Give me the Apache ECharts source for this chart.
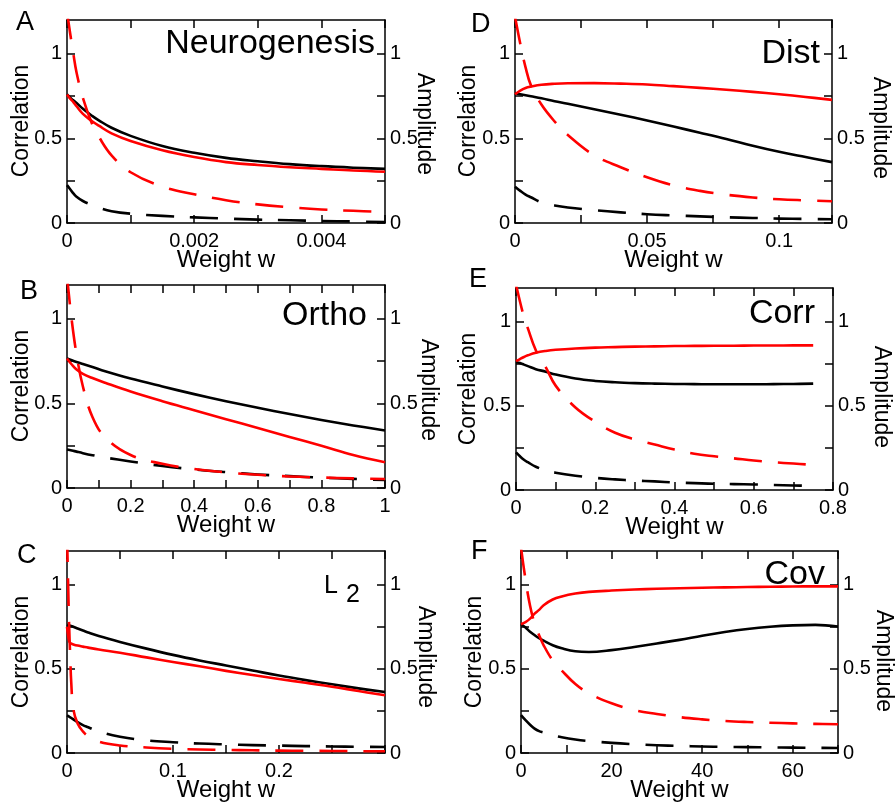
<!DOCTYPE html>
<html><head><meta charset="utf-8">
<script src="https://cdn.jsdelivr.net/npm/echarts@6/dist/echarts.min.js"></script>
<style>html,body{margin:0;padding:0;background:#fff}#c{width:895px;height:806px}</style>
</head><body><div id="c"></div>
<script>
// ---------- DATA ----------
// Panel A: Neurogenesis
const xA = [0, 0.00005, 0.0001, 0.00015, 0.00025, 0.0004, 0.0005, 0.0007, 0.001, 0.0015, 0.002, 0.0025, 0.003, 0.0035, 0.004, 0.0045, 0.005];
const aBlackSolid = [0.76, 0.74, 0.725, 0.71, 0.675, 0.632, 0.607, 0.563, 0.515, 0.455, 0.415, 0.385, 0.365, 0.348, 0.336, 0.327, 0.32];
const aRedSolid = [0.76, 0.735, 0.715, 0.69, 0.645, 0.60, 0.575, 0.53, 0.485, 0.43, 0.39, 0.36, 0.343, 0.33, 0.32, 0.31, 0.303];
const aBlackDash = [0.224, 0.2, 0.175, 0.155, 0.13, 0.105, 0.09, 0.07, 0.055, 0.042, 0.033, 0.026, 0.02, 0.016, 0.012, 0.009, 0.006];
const aRedDash = [1.25, 1.12, 1.0, 0.89, 0.74, 0.58, 0.51, 0.4, 0.3, 0.215, 0.17, 0.135, 0.11, 0.093, 0.08, 0.072, 0.065];
const xTicksA = [0, 0.002, 0.004];

// Panel B: Ortho
const xB = [0, 0.015, 0.03, 0.05, 0.08, 0.12, 0.2, 0.3, 0.4, 0.5, 0.6, 0.7, 0.8, 0.9, 1.0];
const bBlackSolid = [0.766, 0.755, 0.745, 0.733, 0.715, 0.69, 0.647, 0.6, 0.555, 0.513, 0.474, 0.437, 0.402, 0.37, 0.34];
const bRedSolid = [0.766, 0.73, 0.70, 0.675, 0.65, 0.622, 0.57, 0.513, 0.46, 0.407, 0.355, 0.302, 0.25, 0.195, 0.152];
const bBlackDash = [0.228, 0.222, 0.215, 0.206, 0.194, 0.18, 0.157, 0.13, 0.11, 0.094, 0.08, 0.07, 0.061, 0.054, 0.047];
const bRedDash = [1.25, 0.99, 0.79, 0.6, 0.42, 0.3, 0.195, 0.143, 0.112, 0.092, 0.078, 0.068, 0.062, 0.057, 0.053];
const xTicksB = [0, 0.2, 0.4, 0.6, 0.8, 1];

// Panel C: L2
const xC = [0, 0.001, 0.002, 0.003, 0.004, 0.006, 0.01, 0.015, 0.02, 0.03, 0.05, 0.075, 0.1, 0.125, 0.15, 0.175, 0.2, 0.225, 0.25, 0.275, 0.3];
const cBlackSolid = [0.762, 0.76, 0.758, 0.756, 0.754, 0.75, 0.74, 0.728, 0.716, 0.695, 0.66, 0.62, 0.583, 0.55, 0.52, 0.49, 0.46, 0.433, 0.408, 0.384, 0.362];
const cRedSolid = [0.75, 0.70, 0.665, 0.655, 0.65, 0.645, 0.638, 0.632, 0.626, 0.615, 0.596, 0.568, 0.541, 0.515, 0.488, 0.463, 0.44, 0.417, 0.394, 0.368, 0.343];
const cBlackDash = [0.224, 0.22, 0.216, 0.212, 0.208, 0.2, 0.184, 0.166, 0.153, 0.127, 0.097, 0.075, 0.064, 0.056, 0.051, 0.047, 0.044, 0.041, 0.039, 0.037, 0.036];
const cRedDash = [1.3, 1.02, 0.76, 0.58, 0.42, 0.26, 0.175, 0.128, 0.1, 0.068, 0.045, 0.033, 0.025, 0.021, 0.018, 0.016, 0.014, 0.013, 0.012, 0.011, 0.01];
const xTicksC = [0, 0.1, 0.2];

// Panel D: Dist
const xD = [0, 0.002, 0.004, 0.006, 0.01, 0.015, 0.02, 0.03, 0.04, 0.05, 0.06, 0.07, 0.08, 0.09, 0.1, 0.11, 0.12];
const dBlackSolid = [0.767, 0.761, 0.755, 0.749, 0.737, 0.72, 0.705, 0.672, 0.64, 0.606, 0.57, 0.534, 0.497, 0.457, 0.421, 0.39, 0.36];
const dRedSolid = [0.761, 0.783, 0.798, 0.806, 0.817, 0.823, 0.826, 0.827, 0.824, 0.819, 0.809, 0.799, 0.788, 0.775, 0.761, 0.745, 0.728];
const dBlackDash = [0.215, 0.19, 0.168, 0.152, 0.122, 0.104, 0.092, 0.076, 0.063, 0.052, 0.045, 0.039, 0.034, 0.03, 0.026, 0.024, 0.022];
const dRedDash = [1.22, 1.06, 0.92, 0.815, 0.7, 0.6, 0.52, 0.40, 0.33, 0.27, 0.222, 0.19, 0.167, 0.151, 0.14, 0.134, 0.129];
const xTicksD = [0, 0.05, 0.1];

// Panel E: Corr
const xE = [0, 0.01, 0.02, 0.03, 0.05, 0.075, 0.1, 0.15, 0.2, 0.25, 0.3, 0.35, 0.4, 0.45, 0.5, 0.55, 0.6, 0.65, 0.7, 0.75];
const eBlackSolid = [0.761, 0.754, 0.745, 0.736, 0.718, 0.703, 0.686, 0.662, 0.648, 0.64, 0.635, 0.632, 0.63, 0.629, 0.628, 0.628, 0.628, 0.629, 0.63, 0.632];
const eRedSolid = [0.765, 0.778, 0.79, 0.8, 0.815, 0.826, 0.833, 0.841, 0.846, 0.849, 0.852, 0.853, 0.855, 0.856, 0.857, 0.857, 0.858, 0.858, 0.859, 0.859];
const eBlackDash = [0.223, 0.2, 0.18, 0.165, 0.138, 0.117, 0.103, 0.085, 0.072, 0.063, 0.056, 0.051, 0.045, 0.041, 0.037, 0.035, 0.033, 0.03, 0.027, 0.024];
const eRedDash = [1.22, 1.12, 1.03, 0.96, 0.83, 0.73, 0.62, 0.49, 0.405, 0.34, 0.3, 0.27, 0.24, 0.215, 0.2, 0.188, 0.175, 0.165, 0.157, 0.149];
const xTicksE = [0, 0.2, 0.4, 0.6, 0.8];

// Panel F: Cov
const xF = [0, 1, 2, 3, 4, 5, 7, 9, 12, 15, 20, 25, 30, 35, 40, 45, 50, 55, 60, 65, 70];
const fBlackSolid = [0.765, 0.745, 0.72, 0.7, 0.682, 0.667, 0.64, 0.622, 0.604, 0.6, 0.611, 0.63, 0.651, 0.672, 0.697, 0.719, 0.737, 0.75, 0.758, 0.761, 0.751];
const fRedSolid = [0.765, 0.778, 0.798, 0.828, 0.85, 0.878, 0.912, 0.93, 0.947, 0.957, 0.965, 0.971, 0.976, 0.979, 0.982, 0.984, 0.986, 0.988, 0.989, 0.99, 0.99];
const fBlackDash = [0.225, 0.195, 0.168, 0.145, 0.13, 0.122, 0.105, 0.093, 0.08, 0.071, 0.06, 0.052, 0.046, 0.042, 0.039, 0.036, 0.035, 0.033, 0.032, 0.031, 0.03];
const fRedDash = [1.22, 1.03, 0.875, 0.77, 0.7, 0.64, 0.55, 0.49, 0.41, 0.355, 0.295, 0.255, 0.232, 0.213, 0.2, 0.19, 0.184, 0.18, 0.176, 0.173, 0.171];
const xTicksF = [0, 20, 40, 60];

const yTicks = [0, 0.5, 1];
const panelLetters = ['A', 'B', 'C', 'D', 'E', 'F'];
const panelTitles = ['Neurogenesis', 'Ortho', 'L', 'Dist', 'Corr', 'Cov'];
const titleSubC = '2';
const xName = 'Weight w';
const yLeftName = 'Correlation';
const yRightName = 'Amplitude';

// ---------- LAYOUT ----------
const FONT = '"Liberation Sans", Arial, Helvetica, sans-serif';
const panels = [
  {x: xA, s: [aBlackSolid, aRedSolid, aBlackDash, aRedDash], ticks: xTicksA, max: 0.005, step: 0.001, grid: {left: 67, top: 20, width: 318, height: 203}},
  {x: xB, s: [bBlackSolid, bRedSolid, bBlackDash, bRedDash], ticks: xTicksB, max: 1, step: 0.1, grid: {left: 67, top: 285, width: 318, height: 203}},
  {x: xC, s: [cBlackSolid, cRedSolid, cBlackDash, cRedDash], ticks: xTicksC, max: 0.3, step: 0.05, grid: {left: 67, top: 551, width: 318, height: 202}},
  {x: xD, s: [dBlackSolid, dRedSolid, dBlackDash, dRedDash], ticks: xTicksD, max: 0.12, step: 0.025, grid: {left: 515, top: 20, width: 317, height: 203}},
  {x: xE, s: [eBlackSolid, eRedSolid, eBlackDash, eRedDash], ticks: xTicksE, max: 0.8, step: 0.1, grid: {left: 516, top: 288, width: 317, height: 202}},
  {x: xF, s: [fBlackSolid, fRedSolid, fBlackDash, fRedDash], ticks: xTicksF, max: 70, step: 10, grid: {left: 521, top: 551, width: 317, height: 202}}
];
const styles = [
  {color: '#000000', dash: false},
  {color: '#ff0000', dash: false},
  {color: '#000000', dash: true},
  {color: '#ff0000', dash: true}
];

function tickFormatter(ticks, range) {
  return function (v) {
    for (const t of ticks) if (Math.abs(v - t) < range * 1e-6) return String(t);
    return '';
  };
}
const lineCol = {color: '#000', width: 1.5};
const grids = [], xAxes = [], yAxes = [], series = [];
panels.forEach((p, i) => {
  grids.push(Object.assign({containLabel: false}, p.grid));
  const xBase = {
    gridIndex: i, type: 'value', min: 0, max: p.max, interval: p.step,
    axisLine: {show: true, onZero: false, lineStyle: lineCol},
    axisTick: {show: true, inside: true, length: 8, lineStyle: lineCol},
    splitLine: {show: false}
  };
  xAxes.push(Object.assign({}, xBase, {
    position: 'bottom',
    axisLabel: {formatter: tickFormatter(p.ticks, p.max), margin: 8, color: '#000', fontSize: 20, fontFamily: FONT, showMaxLabel: true, hideOverlap: false},
    name: xName, nameLocation: 'middle', nameGap: 25, nameMoveOverlap: false,
    nameTextStyle: {fontSize: 24, color: '#000', fontFamily: FONT}
  }));
  xAxes.push(Object.assign({}, xBase, {position: 'top', axisLabel: {show: false}}));
  const yBase = {
    gridIndex: i, type: 'value', min: 0, max: 1.2, interval: 0.25,
    axisLine: {show: true, onZero: false, lineStyle: lineCol},
    axisTick: {show: true, inside: true, length: 8, lineStyle: lineCol},
    splitLine: {show: false},
    axisLabel: {formatter: tickFormatter(yTicks, 1.2), margin: 5, color: '#000', fontSize: 20, fontFamily: FONT, showMaxLabel: false}
  };
  yAxes.push(Object.assign({}, yBase, {position: 'left'}));
  yAxes.push(Object.assign({}, yBase, {position: 'right'}));
  p.s.forEach((vals, k) => {
    const st = styles[k];
    series.push({
      type: 'line', xAxisIndex: 2 * i, yAxisIndex: 2 * i,
      data: p.x.map((xv, j) => [xv, vals[j]]),
      showSymbol: false, symbol: 'none', smooth: 0.4, clip: true,
      animation: false, silent: true,
      lineStyle: {color: st.color, width: 2.6, type: st.dash ? [28, 16] : 'solid', cap: 'butt', join: 'round'},
      z: 3 + k
    });
  });
});

const letterPos = [[16, 23], [20, 292], [17, 556], [471, 25], [469, 280], [471, 552]];
const titlePos = [[375, 44], [367, 316], null, [820, 54], [815, 314], [825, 575]];
const corrPos = [[22, 121], [22, 386], [22, 652], [469, 121], [469, 389], [475, 652]];
const ampPos = [[424, 124], [428, 390], [425, 657], [880, 128], [881, 397], [883, 661]];
const graphic = [];
panelLetters.forEach((L, i) => {
  graphic.push({type: 'text', x: letterPos[i][0], y: letterPos[i][1], z: 100,
    style: {text: L, font: '27px ' + FONT, fill: '#000', align: 'left', verticalAlign: 'middle'}});
  graphic.push({type: 'text', x: corrPos[i][0], y: corrPos[i][1], rotation: Math.PI / 2, z: 100,
    style: {text: yLeftName, font: '23px ' + FONT, fill: '#000', align: 'center', verticalAlign: 'middle'}});
  graphic.push({type: 'text', x: ampPos[i][0], y: ampPos[i][1], rotation: -Math.PI / 2, z: 100,
    style: {text: yRightName, font: '23px ' + FONT, fill: '#000', align: 'center', verticalAlign: 'middle'}});
});
panelTitles.forEach((t, i) => {
  if (i === 2) {
    graphic.push({type: 'text', x: 324, y: 586, z: 100,
      style: {text: t, font: '25px ' + FONT, fill: '#000', align: 'left', verticalAlign: 'middle'}});
    graphic.push({type: 'text', x: 346, y: 595, z: 100,
      style: {text: titleSubC, font: '25px ' + FONT, fill: '#000', align: 'left', verticalAlign: 'middle'}});
  } else {
    graphic.push({type: 'text', x: titlePos[i][0], y: titlePos[i][1], z: 100,
      style: {text: t, font: '34px ' + FONT, fill: '#000', align: 'right', verticalAlign: 'middle'}});
  }
});

const chart = echarts.init(document.getElementById('c'), null, {renderer: 'canvas'});
chart.setOption({
  animation: false,
  backgroundColor: '#ffffff',
  grid: grids, xAxis: xAxes, yAxis: yAxes, series: series, graphic: graphic
});
</script></body></html>
